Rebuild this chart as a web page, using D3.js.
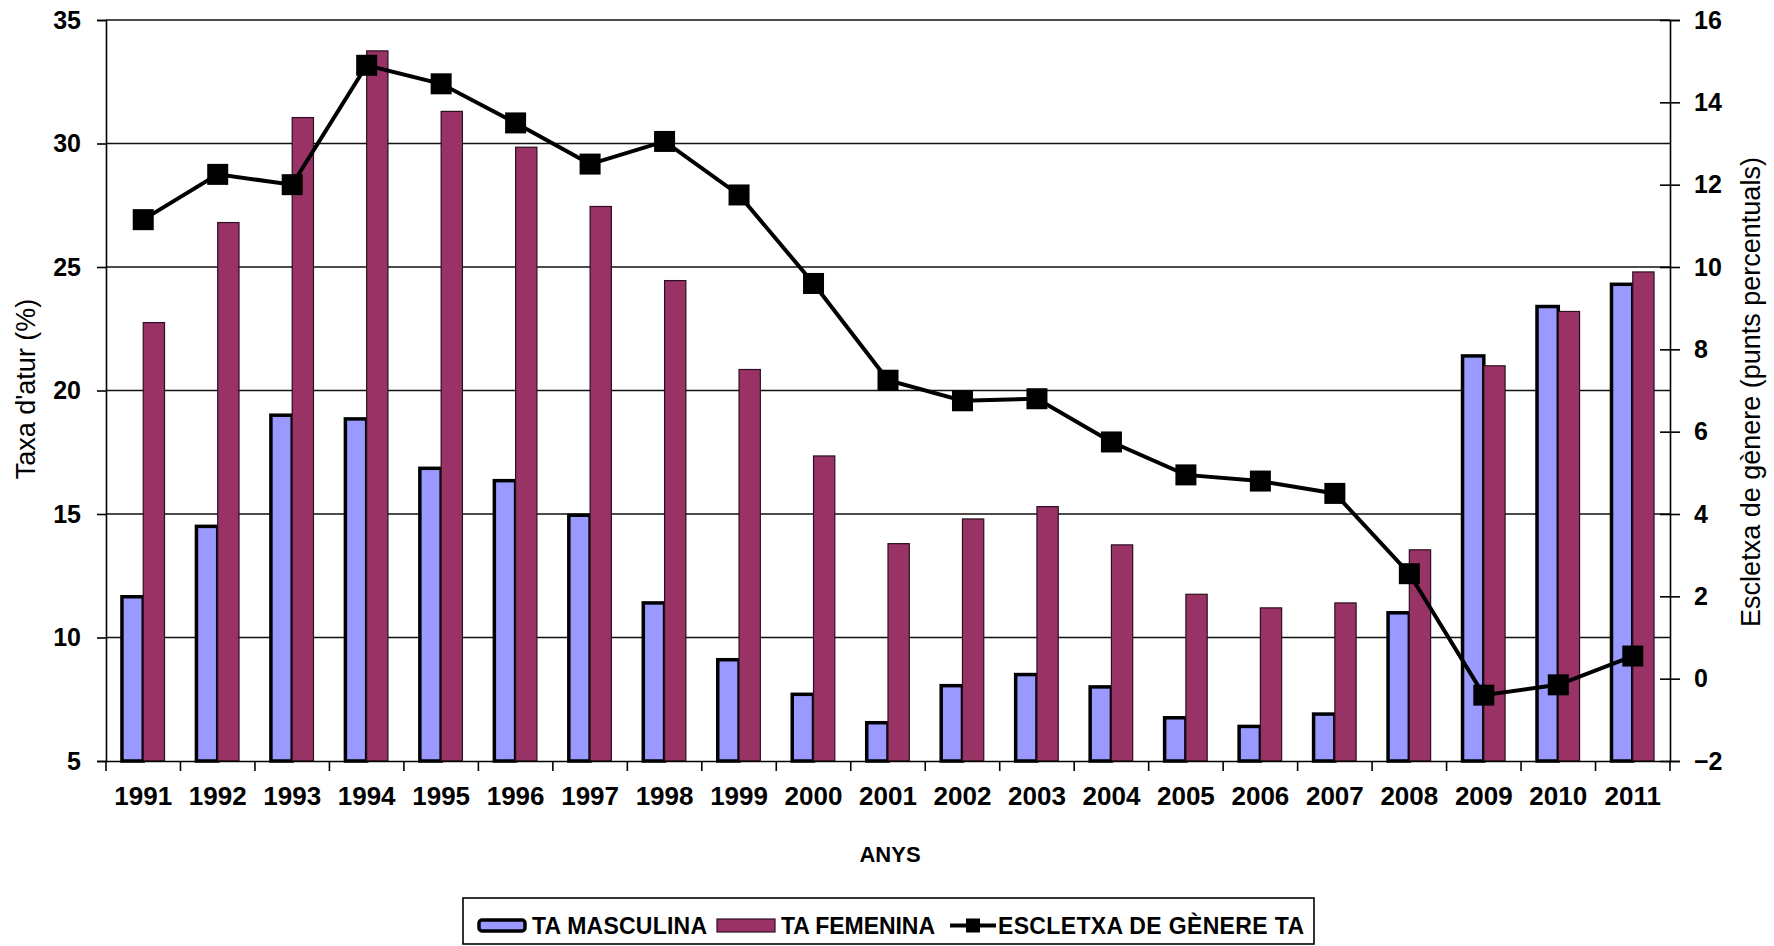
<!DOCTYPE html>
<html>
<head>
<meta charset="utf-8">
<script src="https://cdn.jsdelivr.net/npm/d3@7"></script>
<style>
  body { margin: 0; background: #fff; }
  svg { display: block; font-family: "Liberation Sans", Arial, sans-serif; }
</style>
</head>
<body>
<svg id="chart" width="1774" height="946"></svg>
<script>
// values
var years = ["1991","1992","1993","1994","1995","1996","1997","1998","1999","2000",
             "2001","2002","2003","2004","2005","2006","2007","2008","2009","2010","2011"];
var taMasculina = [11.65, 14.5, 19.0, 18.85, 16.85, 16.35, 14.95, 11.4, 9.1, 7.7,
                   6.55, 8.05, 8.5, 8.0, 6.75, 6.4, 6.9, 11.0, 21.4, 23.4, 24.3];
var taFemenina = [22.75, 26.8, 31.05, 33.75, 31.3, 29.85, 27.45, 24.45, 20.85, 17.35,
                  13.8, 14.8, 15.3, 13.75, 11.75, 11.2, 11.4, 13.55, 21.0, 23.2, 24.8];
var escletxa = [11.15, 12.25, 12.0, 14.9, 14.45, 13.5, 12.5, 13.05, 11.75, 9.6,
                7.25, 6.75, 6.8, 5.75, 4.95, 4.8, 4.5, 2.55, -0.4, -0.15, 0.55];
var leftTicks = [5, 10, 15, 20, 25, 30, 35];
var rightTicks = [-2, 0, 2, 4, 6, 8, 10, 12, 14, 16];

var svg = d3.select("#chart");
var plotLeft = 106, plotRight = 1670, plotTop = 20, plotBottom = 761;

var x = d3.scaleBand().domain(years).range([plotLeft, plotRight]).paddingInner(0).paddingOuter(0);
var xs = d3.scaleBand().domain(["m", "f"]).range([0, x.bandwidth()]).paddingInner(0).paddingOuter(0.75);
var yL = d3.scaleLinear().domain([5, 35]).range([plotBottom, plotTop]);
var yR = d3.scaleLinear().domain([-2, 16]).range([plotBottom, plotTop]);

// gridlines
svg.append("g").selectAll("line")
  .data(leftTicks.slice(1))
  .enter().append("line")
  .attr("x1", plotLeft).attr("x2", plotRight)
  .attr("y1", function(d) { return yL(d); })
  .attr("y2", function(d) { return yL(d); })
  .attr("stroke", "#111").attr("stroke-width", 1.6);

// bars
var groups = svg.append("g").selectAll("g")
  .data(years)
  .enter().append("g")
  .attr("transform", function(d) { return "translate(" + x(d) + ",0)"; });

groups.append("rect")
  .attr("x", xs("m"))
  .attr("y", function(d, i) { return yL(taMasculina[i]); })
  .attr("width", xs.bandwidth())
  .attr("height", function(d, i) { return plotBottom - yL(taMasculina[i]); })
  .attr("fill", "#9999ff").attr("stroke", "#000").attr("stroke-width", 3.5);

groups.append("rect")
  .attr("x", xs("f"))
  .attr("y", function(d, i) { return yL(taFemenina[i]); })
  .attr("width", xs.bandwidth())
  .attr("height", function(d, i) { return plotBottom - yL(taFemenina[i]); })
  .attr("fill", "#993366").attr("stroke", "#2a1020").attr("stroke-width", 1.2);

// axes
var axL = svg.append("g")
  .attr("transform", "translate(" + plotLeft + ",0)")
  .call(d3.axisLeft(yL).tickValues(leftTicks).tickSize(9).tickPadding(16));
var axR = svg.append("g")
  .attr("transform", "translate(" + plotRight + ",0)")
  .call(d3.axisRight(yR).tickValues(rightTicks).tickSize(10).tickPadding(14));
axR.selectAll(".tick line").attr("x1", -10);

var axB = svg.append("g")
  .attr("transform", "translate(0," + plotBottom + ")")
  .call(d3.axisBottom(x).tickSize(0).tickPadding(26));
axB.append("g").selectAll("line")
  .data(years.concat(["end"]))
  .enter().append("line")
  .attr("x1", function(d) { return d === "end" ? plotRight : x(d); })
  .attr("x2", function(d) { return d === "end" ? plotRight : x(d); })
  .attr("y1", 0).attr("y2", 10)
  .attr("stroke", "#000").attr("stroke-width", 1.6);

[axL, axR, axB].forEach(function(a) {
  a.select(".domain").attr("stroke", "#000").attr("stroke-width", 1.6);
  a.selectAll(".tick line").attr("stroke", "#000").attr("stroke-width", 1.6);
  a.selectAll("text").attr("font-size", 25).attr("font-weight", "bold").attr("fill", "#000")
    .attr("font-family", "Liberation Sans, Arial, sans-serif");
});
axB.selectAll(".tick text").attr("font-size", 26);

// gap line
var line = d3.line()
  .x(function(d, i) { return x(years[i]) + x.bandwidth() / 2; })
  .y(function(d) { return yR(d); });
svg.append("path").datum(escletxa)
  .attr("d", line).attr("fill", "none").attr("stroke", "#000").attr("stroke-width", 4);
svg.append("g").selectAll("rect")
  .data(escletxa)
  .enter().append("rect")
  .attr("x", function(d, i) { return x(years[i]) + x.bandwidth() / 2 - 10.5; })
  .attr("y", function(d) { return yR(d) - 10.5; })
  .attr("width", 21).attr("height", 21).attr("fill", "#000");

// titles
svg.append("text")
  .attr("transform", "translate(35,389) rotate(-90)")
  .attr("text-anchor", "middle").attr("font-size", 27).text("Taxa d'atur (%)");
svg.append("text")
  .attr("transform", "translate(1760,392) rotate(-90)")
  .attr("text-anchor", "middle").attr("font-size", 27).text("Escletxa de gènere (punts percentuals)");
svg.append("text")
  .attr("x", 890).attr("y", 862)
  .attr("text-anchor", "middle").attr("font-size", 22).attr("font-weight", "bold").text("ANYS");

// legend
var lg = svg.append("g");
lg.append("rect").attr("x", 463).attr("y", 898).attr("width", 851).attr("height", 46)
  .attr("fill", "#fff").attr("stroke", "#000").attr("stroke-width", 1.6);
lg.append("rect").attr("x", 479).attr("y", 920).attr("width", 46).attr("height", 11).attr("rx", 3)
  .attr("fill", "#9999ff").attr("stroke", "#000").attr("stroke-width", 3.5);
lg.append("text").attr("x", 532).attr("y", 934).attr("font-size", 23).attr("font-weight", "bold")
  .attr("textLength", 175).text("TA MASCULINA");
lg.append("rect").attr("x", 717).attr("y", 919).attr("width", 58).attr("height", 13)
  .attr("fill", "#993366").attr("stroke", "#2a1020").attr("stroke-width", 1.2);
lg.append("text").attr("x", 781).attr("y", 934).attr("font-size", 23).attr("font-weight", "bold")
  .attr("textLength", 154).text("TA FEMENINA");
lg.append("line").attr("x1", 950).attr("x2", 996).attr("y1", 925.5).attr("y2", 925.5)
  .attr("stroke", "#000").attr("stroke-width", 4);
lg.append("rect").attr("x", 966).attr("y", 918.5).attr("width", 14).attr("height", 14).attr("fill", "#000");
lg.append("text").attr("x", 998).attr("y", 934).attr("font-size", 23).attr("font-weight", "bold")
  .attr("textLength", 306).text("ESCLETXA DE GÈNERE TA");
</script>
</body>
</html>
